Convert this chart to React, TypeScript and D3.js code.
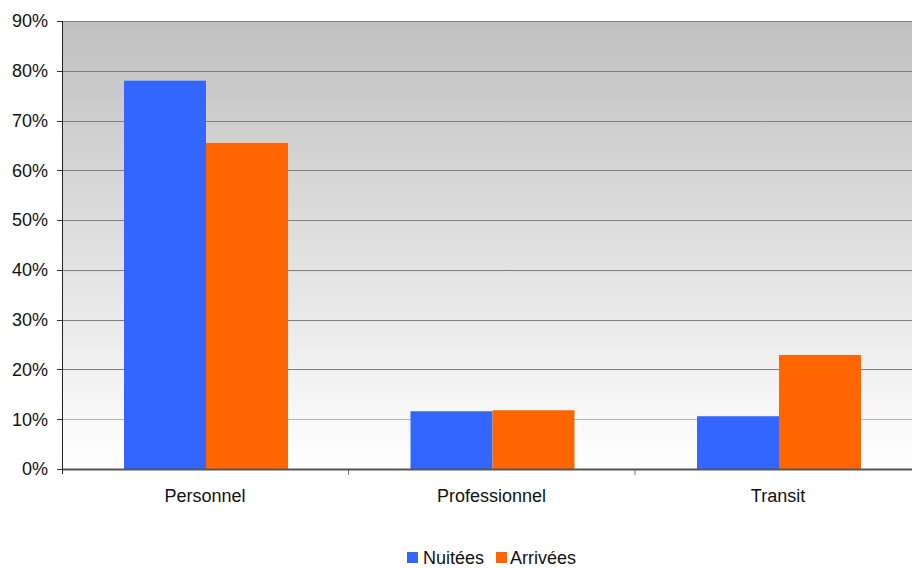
import React from "react";
import * as d3 from "d3";

const categories = ["Personnel", "Professionnel", "Transit"];
const seriesNames = ["Nuitées", "Arrivées"];
const nuitees = [78.0, 11.6, 10.6];
const arrivees = [65.5, 11.8, 22.9];
const yTicks = [0, 10, 20, 30, 40, 50, 60, 70, 80, 90];
const colors = ["#3366ff", "#ff6600"];

export default function App() {
  const W = 912, H = 568;
  const left = 62, top = 21, bottom = 469;
  const bandW = 286.5;
  const x0 = d3.scaleBand().domain(categories).range([left, left + bandW * 3]).paddingInner(0).paddingOuter(0);
  const y = d3.scaleLinear().domain([0, 90]).range([bottom, top]);
  const x1 = d3.scaleBand().domain(seriesNames).range([62, 62 + 164]).padding(0);
  const series = [nuitees, arrivees];
  const font = "'Liberation Sans', Arial, sans-serif";
  return (
    <svg width={W} height={H} style={{ position: "absolute", left: 0, top: 0 }} fontFamily={font}>
      <defs>
        <linearGradient id="bg" x1="0" y1="0" x2="0" y2="1">
          <stop offset="0" stopColor="#c0c0c0" />
          <stop offset="1" stopColor="#ffffff" />
        </linearGradient>
      </defs>
      <rect x={left} y={top} width={W - left} height={bottom - top} fill="url(#bg)" />
      {yTicks.map((t) => (
        <g key={t}>
          {t > 0 && (
            <line x1={left} x2={W} y1={Math.round(y(t)) + 0.5} y2={Math.round(y(t)) + 0.5} stroke={t >= 20 ? "#808080" : "#b4b4b4"} strokeWidth={1} />
          )}
          <line x1={left - 5} x2={left} y1={Math.round(y(t)) + 0.5} y2={Math.round(y(t)) + 0.5} stroke="#333" />
          <text x={48} y={y(t)} dy="0.35em" textAnchor="end" fontSize={18} fill="#111">{t}%</text>
        </g>
      ))}
      {categories.map((c, i) => (
        <g key={c}>
          {series.map((s, j) => (
            <rect key={j} x={(x0(c) as number) + (x1(seriesNames[j]) as number)} y={y(s[i])} width={x1.bandwidth()} height={bottom - y(s[i])} fill={colors[j]} />
          ))}
          <text x={(x0(c) as number) + 143} y={502} textAnchor="middle" fontSize={18} fill="#111">{c}</text>
        </g>
      ))}
      {[1, 2].map((k) => (
        <line key={k} x1={left + bandW * k} x2={left + bandW * k} y1={bottom} y2={bottom + 6} stroke="#777" strokeWidth={1} />
      ))}
      <line x1={left} x2={W} y1={bottom + 0.5} y2={bottom + 0.5} stroke="#555" strokeWidth={2} />
      <line x1={left + 0.5} x2={left + 0.5} y1={top} y2={bottom + 5} stroke="#222" strokeWidth={1} />
      <g>
        <rect x={407} y={552} width={11} height={11} fill={colors[0]} />
        <text x={423} y={564} fontSize={18} fill="#111">{seriesNames[0]}</text>
        <rect x={496} y={552} width={11} height={11} fill={colors[1]} />
        <text x={510} y={564} fontSize={18} fill="#111">{seriesNames[1]}</text>
      </g>
    </svg>
  );
}
